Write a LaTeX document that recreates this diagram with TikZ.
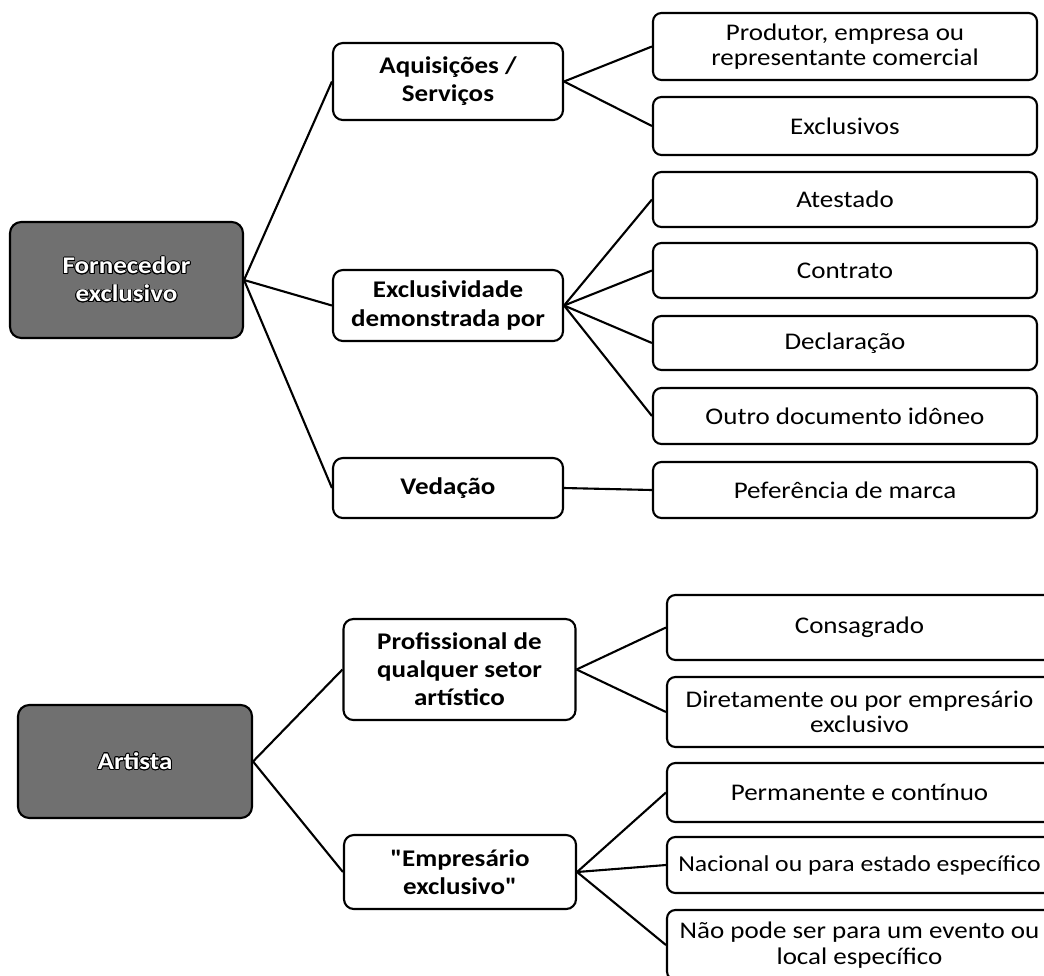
\documentclass[tikz,border=0pt]{standalone}
\usepackage{fontspec}
\setmainfont{Carlito}[FakeStretch=1.13]
\newfontfamily\quotefont{Carlito}[FakeStretch=1.13, Ligatures=TeXOff]
\usepackage{contour}
\contourlength{0.6pt}
\definecolor{rootgray}{RGB}{112,112,112}
\tikzset{
	rootbox/.style={draw=black, line width=1.5pt, fill=rootgray, rounded corners=8pt, font=\bfseries\fontsize{17}{20}\selectfont, align=center, inner sep=0pt},
	midbox/.style={draw=black, line width=1.5pt, fill=white, rounded corners=7pt, font=\bfseries\fontsize{17}{20}\selectfont, align=center, inner sep=0pt},
	leafbox/.style={draw=black, line width=1.5pt, fill=white, rounded corners=6pt, font=\fontsize{17}{18}\selectfont, align=center, inner sep=0pt},
	branch/.style={line width=1.5pt}
}
\newcommand{\roottext}[1]{\contour{black}{\textcolor{white}{#1}}}
\newcommand{\qmark}{{\quotefont\bfseries"}}

\begin{document}
\begin{tikzpicture}[x=0.025cm, y=-0.025cm]
	\clip (0,0) rectangle (1044,975);
	\fill [white] (0,0) rectangle (1044,975);

	%Roots
	\node [rootbox, minimum width=233*0.025cm, minimum height=116*0.025cm] (forn) at (126.5,280) {\roottext{Fornecedor}\\\roottext{exclusivo}};
	\node [rootbox, minimum width=234*0.025cm, minimum height=113*0.025cm] (art) at (135,761.5) {\roottext{Artista}};

	%Middle level
	\node [midbox, minimum width=230*0.025cm, minimum height=77*0.025cm] (aqui) at (448,81.5) {Aquisições /\\Serviços};
	\node [midbox, minimum width=230*0.025cm, minimum height=71*0.025cm] (excl) at (448,305.5) {Exclusividade\\demonstrada por};
	\node [midbox, minimum width=230*0.025cm, minimum height=60*0.025cm] (veda) at (448,488) {Vedação};
	\node [midbox, minimum width=232*0.025cm, minimum height=101*0.025cm] (prof) at (459.5,669.5) {Profissional de\\qualquer setor\\artístico};
	\node [midbox, minimum width=232*0.025cm, minimum height=74*0.025cm] (empr) at (460,872) {\qmark Empresário\\exclusivo\qmark};

	%Leaves of Fornecedor exclusivo
	\node [leafbox, minimum width=384*0.025cm, minimum height=67*0.025cm] (prod) at (845,46.5) {Produtor, empresa ou\\representante comercial};
	\node [leafbox, minimum width=384*0.025cm, minimum height=58*0.025cm] (exclv) at (845,126) {Exclusivos};
	\node [leafbox, minimum width=384*0.025cm, minimum height=55*0.025cm] (ates) at (845,199.5) {Atestado};
	\node [leafbox, minimum width=384*0.025cm, minimum height=55*0.025cm] (cont) at (845,270.5) {Contrato};
	\node [leafbox, minimum width=384*0.025cm, minimum height=54*0.025cm] (decl) at (845,343) {Declaração};
	\node [leafbox, minimum width=384*0.025cm, minimum height=56*0.025cm] (outr) at (845,416) {Outro documento idôneo};
	\node [leafbox, minimum width=384*0.025cm, minimum height=56*0.025cm] (pefe) at (845,490) {Peferência de marca};

	%Leaves of Artista
	\node [leafbox, minimum width=385*0.025cm, minimum height=65*0.025cm] (cons) at (859.5,627.5) {Consagrado};
	\node [leafbox, minimum width=385*0.025cm, minimum height=70*0.025cm] (dire) at (859.5,712) {Diretamente ou por empresário\\exclusivo};
	\node [leafbox, minimum width=385*0.025cm, minimum height=59*0.025cm] (perm) at (859.5,792.5) {Permanente e contínuo};
	\node [leafbox, minimum width=385*0.025cm, minimum height=56*0.025cm, font=\fontsize{16.2}{18}\selectfont] (naci) at (859.5,865) {Nacional ou para estado específico};
	\node [leafbox, minimum width=385*0.025cm, minimum height=70*0.025cm] (naop) at (859.5,945) {Não pode ser para um evento ou\\local específico};

	%Branches
	\foreach \mid in {aqui,excl,veda}
		\draw [branch] (forn.east) to (\mid.west);
	\foreach \mid in {prof,empr}
		\draw [branch] (art.east) to (\mid.west);
	\foreach \leaf in {prod,exclv}
		\draw [branch] (aqui.east) to (\leaf.west);
	\foreach \leaf in {ates,cont,decl,outr}
		\draw [branch] (excl.east) to (\leaf.west);
	\draw [branch] (veda.east) to (pefe.west);
	\foreach \leaf in {cons,dire}
		\draw [branch] (prof.east) to (\leaf.west);
	\foreach \leaf in {perm,naci,naop}
		\draw [branch] (empr.east) to (\leaf.west);
\end{tikzpicture}
\end{document}
